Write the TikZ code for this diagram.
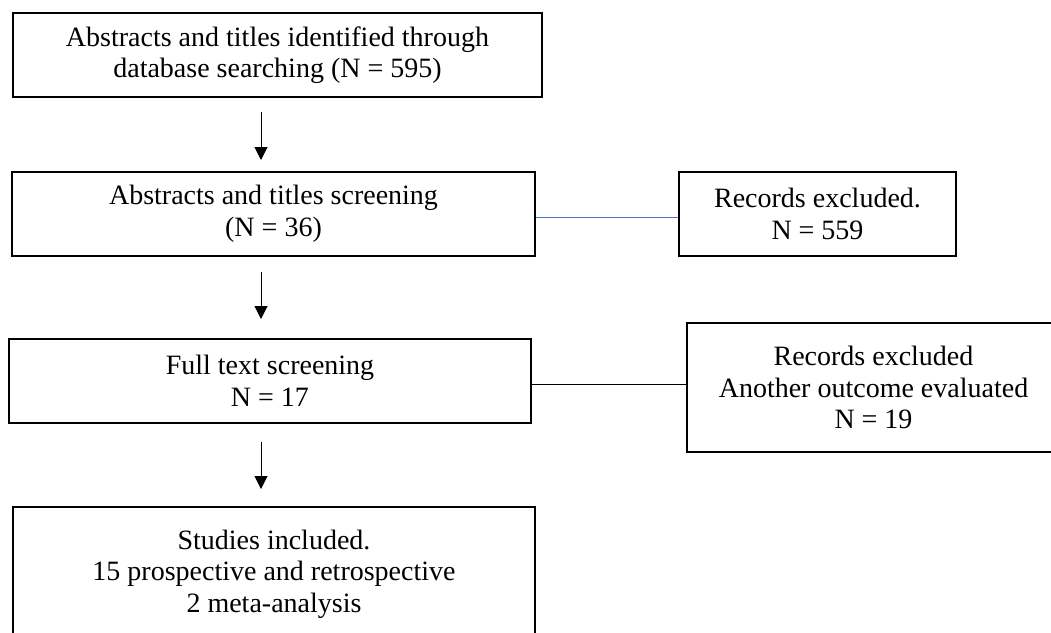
\documentclass[tikz,border=0pt]{standalone}
\usepackage{fontspec}
\setmainfont{Liberation Serif}
\usetikzlibrary{arrows.meta}
\definecolor{linkblue}{HTML}{4472C4}
\begin{document}
\begin{tikzpicture}[x=1pt,y=-1pt,
  box/.style={draw=black, line width=1.8pt, align=center, inner sep=0pt,
              font=\fontsize{28}{31.5}\selectfont},
  arr/.style={draw=black, line width=1pt, -{Triangle[width=13pt,length=13pt]}},
  conn/.style={line width=1pt}]
\clip (0,0) rectangle (1051,632);
\fill[white] (0,0) rectangle (1051,632);
\node[box, minimum width=529pt, minimum height=84pt] (b1) at (277.5,55)
  {Abstracts and titles identified through\\database searching (N = 595)};
\node[box, minimum width=523pt, minimum height=84pt] (b2) at (273.5,214)
  {Abstracts and titles screening\\(N = 36)};
\node[box, minimum width=277pt, minimum height=84pt] (b3) at (817.5,214)
  {Records excluded.\\N = 559};
\node[box, minimum width=522pt, minimum height=84pt] (b4) at (270,381)
  {Full text screening\\N = 17};
\node[box, minimum width=373pt, minimum height=129pt] (b5) at (873.5,387.5)
  {Records excluded\\Another outcome evaluated\\N = 19};
\node[box, minimum width=522pt, minimum height=134pt] (b6) at (274,574)
  {Studies included.\\15 prospective and retrospective\\2 meta-analysis};
\coordinate (a1s) at (261,112);
\coordinate (a1e) at (261,160);
\coordinate (a2s) at (261,272);
\coordinate (a2e) at (261,319);
\coordinate (a3s) at (261,442);
\coordinate (a3e) at (261,489);
\draw[arr] (a1s) -- (a1e);
\draw[arr] (a2s) -- (a2e);
\draw[arr] (a3s) -- (a3e);
\draw[conn, linkblue] ([shift={(0,3)}]b2.east) -- ([shift={(0,3)}]b2.east -| b3.west);
\draw[conn, black] ([shift={(0,3)}]b4.east) -- ([shift={(0,3)}]b4.east -| b5.west);
\end{tikzpicture}
\end{document}
